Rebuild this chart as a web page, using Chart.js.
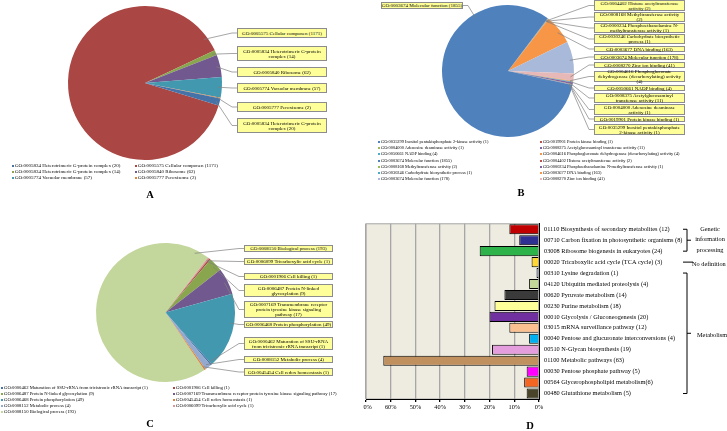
<!DOCTYPE html>
<html>
<head>
<meta charset="utf-8">
<script src="https://cdn.jsdelivr.net/npm/chart.js@4.4.0/dist/chart.umd.min.js"></script>
<style>
  body { margin: 0; background: #fff; font-family: 'Liberation Serif', 'Times New Roman', serif; color: #000; }
  #page { position: relative; width: 727px; height: 431px; overflow: hidden; }
  .panel { position: absolute; }
  .panel canvas { position: absolute; left: 0; top: 0; }
  .box { position: absolute; box-sizing: border-box; background: #ffff99; border: 1px solid #8c8c8c;
         display: flex; align-items: center; justify-content: center; text-align: center;
         font-size: 5px; line-height: 5px; padding: 0 2px; }
  .box.one { white-space: nowrap; padding: 0; }
  .legend { position: absolute; white-space: nowrap; }
  .legend .m { display: inline-block; width: 2px; height: 2px; margin-right: 1px; vertical-align: middle; }
  .letter { position: absolute; width: 20px; text-align: center; font-weight: bold; font-size: 10.5px; line-height: 12px; }
  .note { position: absolute; font-size: 6.3px; white-space: nowrap; }
</style>
</head>
<body>
<div id="page">
  <div class="panel" id="pA" style="left:0;top:0;width:363px;height:215px"><canvas id="cA" width="363" height="215"></canvas></div>
  <div class="panel" id="pB" style="left:363px;top:0;width:364px;height:215px"><canvas id="cB" width="364" height="215"></canvas></div>
  <div class="panel" id="pC" style="left:0;top:215px;width:363px;height:216px"><canvas id="cC" width="363" height="216"></canvas></div>
  <div class="panel" id="pD" style="left:363px;top:215px;width:364px;height:216px;overflow:hidden">
    <canvas id="cD" width="384" height="216" style="left:-20px"></canvas>
    <div class="note" style="left:332px;top:8.75px;width:30px;text-align:center;line-height:10.5px">Genetic<br>information<br>processing</div>
    <div class="note" style="left:329px;top:44.5px;line-height:7px">No definition</div>
    <div class="note" style="left:334px;top:115.5px;line-height:7px">Metabolism</div>
  </div>
  <div class="letter" style="left:140px;top:189px">A</div>
  <div class="letter" style="left:511px;top:187px">B</div>
  <div class="letter" style="left:140px;top:418px">C</div>
  <div class="letter" style="left:520px;top:420px">D</div>
</div>
<script>
const serif = "'Liberation Serif', 'Times New Roman', serif";

// A - cellular component, slices listed clockwise
const aTerms = ['GO:0005575 Cellular componen', 'GO:0005834 Heterotrimeric G-protein complex', 'GO:0005840 Ribosome',
                'GO:0005774 Vacuolar membrane', 'GO:0005777 Peroxisome', 'GO:0005834 Heterotrimeric G-protein complex'];
const aCounts = [1171, 14, 62, 57, 2, 20];
const aColors = ['#aa4643', '#89a54e', '#71588f', '#4198af', '#db843d', '#4572a7'];
const aLegendCols = [[5, 1, 3], [0, 2, 4]];

// B - molecular function
const bTerms = ['GO:0004402 Histone acetyltransferase activity', 'GO:0008168 Methyltransferase activity',
                'GO:0000234 Phosphoethanolamine N-methyltransferase activity', 'GO:0030246 Carbohydrate biosynthetic process',
                'GO:0003677 DNA binding', 'GO:0003674 Molecular function', 'GO:0008270 Zinc ion binding',
                'GO:0004616 Phosphogluconate dehydrogenase (decarboxylating) activity', 'GO:0050661 NADP binding',
                'GO:0008375 Acetylglucosaminyl transferase activity', 'GO:0004000 Adenosine deaminase activity',
                'GO:0019901 Protein kinase binding', 'GO:0035299 Inositol pentakisphosphate 2-kinase activity',
                'GO:0003674 Molecular function'];
const bCounts = [2, 2, 1, 1, 163, 178, 41, 4, 4, 11, 1, 1, 1, 1855];
const bColors = ['#c0504d', '#9bbb59', '#8064a2', '#4bacc6', '#f79646', '#a9b9d9', '#e6b9b8',
                 '#f79646', '#4bacc6', '#8064a2', '#9bbb59', '#c0504d', '#4f81bd', '#4f81bd'];
const bLegendCols = [[12, 10, 8, 13, 1, 3, 5], [11, 9, 7, 0, 2, 4, 6]];

// C - biological process
const cTerms = ['GO:0008150 Biological process', 'GO:0006099 Tricarboxylic acid cycle', 'GO:0001906 Cell killing',
                'GO:0006487 Protein N-linked glycosylation',
                'GO:0007169 Transmembrane receptor protein tyrosine kinase signaling pathway',
                'GO:0006468 Protein phosphorylation',
                'GO:0000462 Maturation of SSU-rRNA from tricistronic rRNA transcript',
                'GO:0008152 Metabolic process', 'GO:0045454 Cell redox homeostasis'];
const cCounts = [193, 1, 1, 9, 17, 49, 1, 4, 1];
const cColors = ['#c3d69b', '#d99694', '#aa4643', '#89a54e', '#71588f', '#4198af', '#4572a7', '#93a9cf', '#db843d'];
const cLegendCols = [[6, 3, 5, 7, 0], [2, 4, 8, 1]];

// D - KEGG pathways (%)
const dLabels = ['01110 Biosynthesis of secondary metabolites (12)', '00710 Carbon fixation in photosynthetic organisms (8)',
                 '03008 Ribosome biogenesis in eukaryotes (24)', '00020 Tricaboxylic acid cycle (TCA cycle) (3)',
                 '00310 Lysine degradation (1)', '04120 Ubiquitin mediated proteolysis (4)', '00620 Pyruvate metabolism (14)',
                 '00230 Purine metabolism (18)', '00010 Glycolysis / Gluconeogenesis (20)', '03015 mRNA surveillance pathway (12)',
                 '00040 Pentose and glucuronate interconversions (4)', '00510 N-Glycan biosynthesis (19)',
                 '01100 Metabolic pathways (63)', '00030 Pentose phosphate pathway (5)',
                 '00564 Glycerophospholipid metabolism(6)', '00480 Glutathione metabolism (5)'];
const dValues = [12, 8, 24, 3, 1, 4, 14, 18, 20, 12, 4, 19, 63, 5, 6, 5];
const dColors = ['#c00000', '#2e3192', '#2db34a', '#ffd633', '#8c9fcf', '#c4d79b', '#3a3a3a', '#ffff99',
                 '#7030a0', '#fac090', '#00b0f0', '#e59edd', '#c0915e', '#ff00ff', '#f26522', '#4a452a'];
const dTicks = [0, 10, 20, 30, 40, 50, 60, 70];
const dGroups = [[0, 2], [3, 3], [4, 15]];

// callout box layout: [top, height] (optional left, width for a one-line box)
const aBoxRows = [[28, 10], [46, 15], [67, 10], [83, 10], [102, 10], [118, 15]];
const bBoxRows = [[0, 11], [12, 10], [23, 10], [34, 10], [46, 6], [54, 6], [62, 6], [71, 11], [85, 6], [93, 10],
                  [104, 11], [116, 6], [124, 11], [2, 7, 18, 82]];
const cBoxRows = [[30, 7], [43, 7], [58, 7], [69, 13], [86, 17], [106, 7, 244, 89], [122, 13], [141, 7], [153, 8]];

function addBoxes(panelId, terms, counts, rows, left, width) {
    const panel = document.getElementById(panelId);
    return rows.map((r, i) => {
        const b = { top: r[0], height: r[1], left: r[2] !== undefined ? r[2] : left, width: r[3] || width };
        const d = document.createElement('div');
        d.className = r[2] !== undefined ? 'box one' : 'box';
        d.style.left = b.left + 'px';
        d.style.top = b.top + 'px';
        d.style.width = b.width + 'px';
        d.style.height = b.height + 'px';
        d.textContent = terms[i] + ' (' + counts[i] + ')';
        panel.appendChild(d);
        return b;
    });
}

function addLegend(panelId, cols, terms, counts, colors, xs, top, size, lh) {
    const panel = document.getElementById(panelId);
    cols.forEach((col, c) => {
        const div = document.createElement('div');
        div.className = 'legend';
        div.style.left = xs[c] + 'px';
        div.style.top = top + 'px';
        div.style.fontSize = size + 'px';
        div.style.lineHeight = lh + 'px';
        col.forEach(i => {
            const row = document.createElement('div');
            const m = document.createElement('span');
            m.className = 'm';
            m.style.background = colors[i];
            row.appendChild(m);
            row.appendChild(document.createTextNode(terms[i] + ' (' + counts[i] + ')'));
            div.appendChild(row);
        });
        panel.appendChild(div);
    });
}

// leader lines from each slice to its callout box
const leaderLines = {
    id: 'leaderLines',
    afterDatasetsDraw(chart, args, opts) {
        const ctx = chart.ctx;
        const arcs = chart.getDatasetMeta(0).data;
        const TAU = Math.PI * 2;
        ctx.save();
        ctx.strokeStyle = '#808080';
        ctx.lineWidth = 0.7;
        opts.boxes.forEach((b, i) => {
            const p = arcs[i].getProps(['x', 'y', 'startAngle', 'endAngle', 'outerRadius'], true);
            const right = b.left > p.x;
            const ax = right ? b.left : b.left + b.width;
            const ay = b.top + b.height / 2;
            const ex = right ? ax - 5 : ax + 5;
            let ang = Math.atan2(ay - p.y, ex - p.x);
            while (ang < p.startAngle) ang += TAU;
            while (ang >= p.startAngle + TAU) ang -= TAU;
            const d = Math.min((p.endAngle - p.startAngle) / 2, 0.2);
            const lo = p.startAngle + d, hi = p.endAngle - d;
            if (ang < lo || ang > hi) {
                ang = (ang - hi < lo + TAU - ang) ? hi : lo;
            }
            const r = p.outerRadius * 0.95;
            ctx.beginPath();
            ctx.moveTo(p.x + Math.cos(ang) * r, p.y + Math.sin(ang) * r);
            ctx.lineTo(ex, ay);
            ctx.lineTo(ax, ay);
            ctx.stroke();
        });
        ctx.restore();
    }
};

function makePie(id, terms, counts, colors, rotation, padding, boxes) {
    return new Chart(document.getElementById(id), {
        type: 'pie',
        data: { labels: terms, datasets: [{ data: counts, backgroundColor: colors, borderWidth: 0 }] },
        options: {
            responsive: false,
            animation: false,
            rotation: rotation,
            layout: { padding: padding },
            plugins: { legend: { display: false }, tooltip: { enabled: false }, leaderLines: { boxes: boxes } }
        },
        plugins: [leaderLines]
    });
}

const aBoxes = addBoxes('pA', aTerms, aCounts, aBoxRows, 237, 90);
const bBoxes = addBoxes('pB', bTerms, bCounts, bBoxRows, 231, 91);
const cBoxes = addBoxes('pC', cTerms, cCounts, cBoxRows, 244, 89);

addLegend('pA', aLegendCols, aTerms, aCounts, aColors, [12, 135], 163, 5, 6);
addLegend('pB', bLegendCols, bTerms, bCounts, bColors, [15, 177], 139, 4.4, 6.2);
addLegend('pC', cLegendCols, cTerms, cCounts, cColors, [1, 173], 170, 4.7, 6);

makePie('cA', aTerms, aCounts, aColors, 107, { left: 68, right: 141, top: 6, bottom: 55 }, aBoxes);
makePie('cB', bTerms, bCounts, bColors, 37, { left: 79, right: 153, top: 5, bottom: 78 }, bBoxes);
makePie('cC', cTerms, cCounts, cColors, 146, { left: 96, right: 128, top: 28, bottom: 49 }, cBoxes);

// D: plot background and group brackets
const plotBg = {
    id: 'plotBg',
    beforeDraw(chart) {
        const a = chart.chartArea, ctx = chart.ctx;
        ctx.save();
        ctx.fillStyle = '#eeece1';
        ctx.fillRect(a.left, a.top, a.width, a.height);
        ctx.strokeStyle = '#a6a6a6';
        ctx.lineWidth = 1;
        ctx.strokeRect(a.left, a.top, a.width, a.height);
        ctx.restore();
    }
};

const brackets = {
    id: 'brackets',
    afterDraw(chart) {
        const y = chart.scales.y, ctx = chart.ctx;
        const x = 344;
        ctx.save();
        ctx.strokeStyle = '#000';
        ctx.lineWidth = 1;
        dGroups.forEach(g => {
            const y0 = y.getPixelForTick(g[0]), y1 = y.getPixelForTick(g[1]);
            ctx.beginPath();
            if (g[0] === g[1]) {
                ctx.moveTo(x - 4, y0); ctx.lineTo(x + 6, y0);
            } else {
                ctx.moveTo(x - 4, y0); ctx.lineTo(x, y0); ctx.lineTo(x, y1); ctx.lineTo(x - 4, y1);
                ctx.moveTo(x, (y0 + y1) / 2); ctx.lineTo(x + 4, (y0 + y1) / 2);
            }
            ctx.stroke();
        });
        ctx.restore();
    }
};

new Chart(document.getElementById('cD'), {
    type: 'bar',
    data: {
        labels: dLabels,
        datasets: [{ data: dValues, backgroundColor: dColors, borderColor: '#000', borderWidth: 1,
                     barPercentage: 0.92, categoryPercentage: 1 }]
    },
    options: {
        indexAxis: 'y',
        responsive: false,
        animation: false,
        layout: { padding: { left: 23, right: 30, top: 8, bottom: 18 } },
        plugins: { legend: { display: false }, tooltip: { enabled: false } },
        scales: {
            x: {
                reverse: true, min: 0, max: 70,
                afterBuildTicks: s => { s.ticks = dTicks.map(v => ({ value: v })); },
                ticks: { callback: v => v + '%', color: '#000', font: { family: serif, size: 6.3 }, padding: 2, maxRotation: 0 },
                grid: { color: '#a6a6a6', lineWidth: 1.3, tickLength: 3, tickColor: '#000' },
                border: { color: '#000' },
                afterFit: s => { s.height = 14; }
            },
            y: {
                position: 'right',
                ticks: { color: '#000', font: { family: serif, size: 6.3 }, padding: 5, autoSkip: false },
                grid: { display: false, drawTicks: false },
                border: { color: '#000' },
                afterFit: s => { s.width = 158; }
            }
        }
    },
    plugins: [plotBg, brackets]
});
</script>
</body>
</html>
